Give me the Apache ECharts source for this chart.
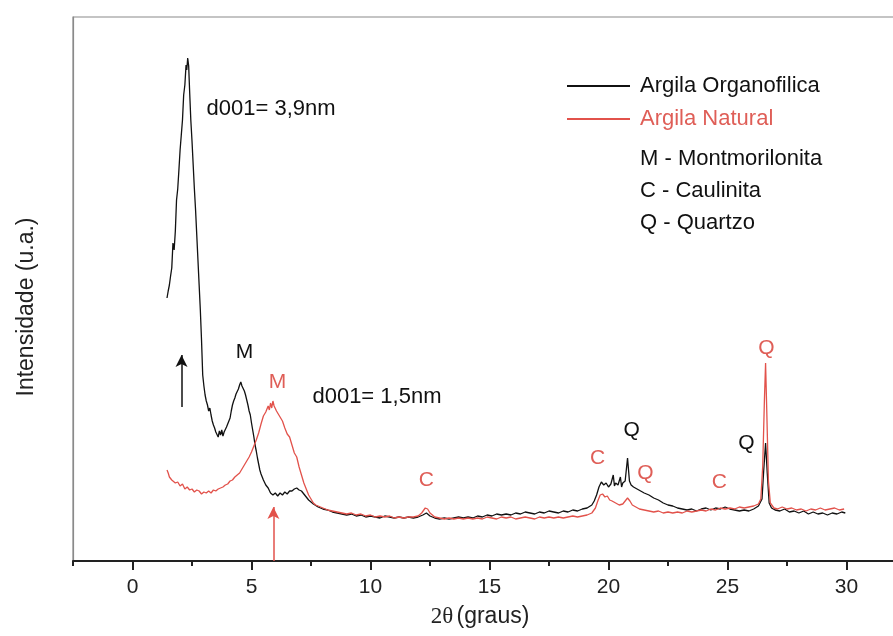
<!DOCTYPE html>
<html>
<head>
<meta charset="utf-8">
<script src="https://cdn.jsdelivr.net/npm/echarts@6/dist/echarts.min.js"></script>
<style>
html,body{margin:0;padding:0;background:#fff;overflow:hidden;width:893px;height:636px;}
#chart{width:906px;height:636px;}
</style>
</head>
<body>
<div id="chart"></div>
<script>
// 2θ (graus), intensity (u.a.)
const organofilica = [
[1.45,263],[1.5,270],[1.55,276],[1.6,285],[1.65,293],[1.7,318],[1.75,311],[1.8,330],[1.85,361],[1.9,372],[1.95,391],[2.0,411],[2.05,426],[2.1,441],[2.15,466],[2.2,476],[2.25,496],[2.28,491],[2.32,503],[2.36,495],[2.4,470],[2.45,441],[2.5,420],[2.55,396],[2.6,372],[2.65,351],[2.7,326],[2.75,301],[2.8,276],[2.85,251],[2.9,221],[2.95,186],[3.0,175],[3.05,166],[3.1,160],[3.15,156],[3.2,150],[3.25,153],[3.3,146],[3.35,140],[3.4,136],[3.45,133],[3.5,129],[3.55,127],[3.6,124],[3.65,130],[3.7,126],[3.75,131],[3.8,125],[3.85,129],[3.9,131],[3.95,134],[4.0,136],[4.05,140],[4.1,143],[4.15,150],[4.2,156],[4.25,160],[4.3,163],[4.35,167],[4.4,169],[4.45,172],[4.5,176],[4.55,179],[4.6,175],[4.65,173],[4.7,170],[4.75,166],[4.8,161],[4.85,156],[4.9,150],[4.95,146],[5.0,138],[5.05,131],[5.1,124],[5.15,116],[5.2,110],[5.25,103],[5.3,97],[5.35,91],[5.4,87],[5.5,81],[5.6,76],[5.7,73],[5.8,68],[5.9,66],[6.0,68],[6.1,65],[6.2,68],[6.3,66],[6.4,69],[6.5,67],[6.6,70],[6.7,70],[6.8,72],[6.9,73],[7.0,71],[7.1,70],[7.2,67],[7.3,64],[7.4,61],[7.5,59],[7.6,57],[7.8,54],[8.0,52],[8.2,51],[8.4,49],[8.6,48],[8.8,47],[9.0,46],[9.2,47],[9.4,45],[9.6,46],[9.8,44],[10.0,45],[10.2,44],[10.4,43],[10.6,45],[10.8,44],[11.0,43],[11.2,44],[11.4,43],[11.6,44],[11.8,43],[12.0,44],[12.2,46],[12.35,48],[12.5,45],[12.7,43],[12.9,42],[13.1,43],[13.3,42],[13.5,43],[13.7,44],[13.9,43],[14.1,44],[14.3,43],[14.5,45],[14.7,44],[14.9,46],[15.1,45],[15.3,47],[15.5,46],[15.7,47],[15.9,46],[16.1,48],[16.3,47],[16.5,49],[16.7,48],[16.9,47],[17.1,49],[17.3,48],[17.5,50],[17.7,49],[17.9,48],[18.1,50],[18.3,49],[18.5,51],[18.7,50],[18.9,52],[19.1,53],[19.3,56],[19.4,60],[19.5,66],[19.6,74],[19.7,79],[19.8,76],[19.9,78],[20.0,74],[20.1,77],[20.2,86],[20.25,75],[20.3,78],[20.4,76],[20.5,84],[20.55,74],[20.6,78],[20.7,80],[20.8,103],[20.88,80],[20.95,76],[21.05,74],[21.2,72],[21.35,70],[21.5,68],[21.7,66],[21.9,63],[22.1,61],[22.3,58],[22.5,56],[22.7,55],[22.9,53],[23.1,52],[23.3,51],[23.5,52],[23.7,50],[23.9,52],[24.1,53],[24.3,51],[24.5,53],[24.7,52],[24.9,54],[25.1,52],[25.3,51],[25.5,50],[25.7,51],[25.9,50],[26.1,52],[26.3,55],[26.45,62],[26.52,90],[26.6,118],[26.67,88],[26.75,58],[26.85,53],[27.0,51],[27.2,50],[27.4,52],[27.6,49],[27.8,50],[28.0,48],[28.2,50],[28.4,47],[28.6,49],[28.8,47],[29.0,48],[29.2,46],[29.4,48],[29.6,47],[29.8,49],[29.95,48]
];
const natural = [
[1.45,91],[1.5,88],[1.55,84],[1.6,85],[1.65,81],[1.7,82],[1.8,78],[1.9,79],[2.0,75],[2.1,77],[2.2,72],[2.3,74],[2.4,71],[2.5,72],[2.6,69],[2.7,71],[2.8,70],[2.9,67],[3.0,69],[3.1,68],[3.2,70],[3.3,68],[3.4,71],[3.5,70],[3.6,72],[3.7,73],[3.8,74],[3.9,76],[4.0,77],[4.1,80],[4.2,81],[4.3,84],[4.4,86],[4.5,88],[4.6,92],[4.7,96],[4.8,100],[4.9,104],[5.0,109],[5.1,115],[5.2,121],[5.3,128],[5.4,137],[5.5,145],[5.6,149],[5.7,155],[5.75,151],[5.8,158],[5.85,153],[5.9,160],[5.95,155],[6.0,156],[6.05,150],[6.1,152],[6.2,144],[6.3,140],[6.4,133],[6.5,127],[6.6,124],[6.7,116],[6.8,108],[6.9,104],[7.0,94],[7.1,86],[7.2,78],[7.3,72],[7.4,66],[7.5,62],[7.6,58],[7.7,56],[7.8,55],[8.0,53],[8.2,51],[8.4,50],[8.6,49],[8.8,48],[9.0,47],[9.2,48],[9.4,46],[9.6,47],[9.8,45],[10.0,46],[10.2,44],[10.4,45],[10.6,44],[10.8,45],[11.0,43],[11.2,44],[11.4,43],[11.6,44],[11.8,44],[12.0,45],[12.15,48],[12.3,53],[12.4,52],[12.5,48],[12.7,44],[12.9,43],[13.1,42],[13.3,43],[13.5,42],[13.7,43],[13.9,42],[14.1,43],[14.3,42],[14.5,43],[14.7,42],[14.9,44],[15.1,43],[15.3,42],[15.5,44],[15.7,43],[15.9,44],[16.1,42],[16.3,43],[16.5,44],[16.7,43],[16.9,42],[17.1,44],[17.3,43],[17.5,44],[17.7,43],[17.9,44],[18.1,43],[18.3,44],[18.5,45],[18.7,44],[18.9,45],[19.1,46],[19.3,48],[19.45,53],[19.55,60],[19.65,66],[19.75,67],[19.85,64],[19.95,65],[20.05,61],[20.15,60],[20.3,58],[20.45,56],[20.6,57],[20.7,60],[20.8,63],[20.9,60],[21.0,56],[21.15,54],[21.3,52],[21.5,51],[21.7,50],[21.9,49],[22.1,50],[22.3,48],[22.5,49],[22.7,48],[22.9,49],[23.1,48],[23.3,50],[23.5,49],[23.7,50],[23.9,51],[24.1,50],[24.3,52],[24.5,51],[24.7,53],[24.9,52],[25.1,53],[25.3,52],[25.5,54],[25.7,53],[25.9,54],[26.1,55],[26.3,57],[26.4,62],[26.48,95],[26.55,160],[26.6,198],[26.65,150],[26.72,80],[26.8,58],[26.95,53],[27.1,52],[27.3,54],[27.5,52],[27.7,53],[27.9,51],[28.1,52],[28.3,50],[28.5,52],[28.7,51],[28.9,53],[29.1,51],[29.3,52],[29.5,53],[29.7,51],[29.9,52]
];
const majorTicks = [0,5,10,15,20,25,30];
const minorTicks = [-2.5,2.5,7.5,12.5,17.5,22.5,27.5,32.5];
const seriesNames = ['Argila Organofilica','Argila Natural'];
const phaseKey = ['M - Montmorilonita','C - Caulinita','Q - Quartzo'];
// peak annotations: [text, 2θ, intensity, which sample (0 organo / 1 natural)]
const peakLabels = [
 ['d001= 3,9nm', 3.11, 452, 0],
 ['d001= 1,5nm', 7.56, 164, 0],
 ['M', 4.71, 209, 0],
 ['M', 6.09, 179, 1],
 ['C', 12.35, 81, 1],
 ['C', 19.54, 103, 1],
 ['Q', 20.97, 131, 0],
 ['Q', 21.55, 88, 1],
 ['C', 24.66, 79, 1],
 ['Q', 25.80, 118, 0],
 ['Q', 26.64, 213, 1]
];
// arrows: [2θ, from, to, sample]
const arrows = [[2.06, 154, 206, 0],[5.92, 0, 54, 1]];

const BLACK = '#111111';
const RED = '#e2524b';
const RED_TXT = '#df5e57';
const FONT = '"Liberation Sans", Arial, sans-serif';
const txtColors = [BLACK, RED_TXT];

const chart = echarts.init(document.getElementById('chart'), null, {renderer:'canvas'});

function arrowLines(k){
  return arrows.filter(a=>a[3]===k).map(a=>[{coord:[a[0],a[1]]},{coord:[a[0],a[2]]}]);
}

const option = {
  animation:false,
  backgroundColor:'#fff',
  grid:{left:73, top:17, right:0, bottom:75, show:true, borderColor:'#8a8a8a', borderWidth:1.2, backgroundColor:'transparent'},
  legend:{
    orient:'vertical', left:567, top:75, padding:0, itemWidth:63, itemHeight:2, itemGap:11, icon:'rect',
    textStyle:{fontSize:22, fontFamily:FONT, padding:[0,0,0,5]},
    data:[{name:seriesNames[0], textStyle:{color:BLACK}},{name:seriesNames[1], textStyle:{color:RED_TXT}}]
  },
  xAxis:[{
    type:'value', min:-2.5, max:32.5, interval:2.5,
    axisLine:{show:true, onZero:false, lineStyle:{color:'#222', width:2}},
    axisTick:{show:true, customValues:majorTicks, length:9, lineStyle:{color:'#222', width:2}},
    axisLabel:{show:true, customValues:majorTicks, fontSize:21, fontFamily:FONT, color:'#222', margin:16},
    splitLine:{show:false}
  },{
    type:'value', gridIndex:0, position:'bottom', min:-2.5, max:32.5, interval:2.5,
    axisLine:{show:false, onZero:false},
    axisTick:{show:true, customValues:minorTicks, length:5, lineStyle:{color:'#222', width:2}},
    axisLabel:{show:false}, splitLine:{show:false}
  }],
  yAxis:{
    type:'value', min:0, max:544,
    axisLine:{show:true, onZero:false, lineStyle:{color:'#8a8a8a', width:1.2}},
    axisTick:{show:false}, axisLabel:{show:false}, splitLine:{show:false}
  },
  series:[
    {name:seriesNames[0], type:'line', data:organofilica, showSymbol:false, symbol:'none',
     lineStyle:{color:BLACK, width:1.3}, itemStyle:{color:BLACK}, z:2,
     markLine:{silent:true, symbol:['none','arrow'], symbolSize:[9,12], label:{show:false},
       lineStyle:{color:BLACK, width:1.5, type:'solid'}, data:arrowLines(0)}},
    {name:seriesNames[1], type:'line', data:natural, showSymbol:false, symbol:'none',
     lineStyle:{color:RED, width:1.3}, itemStyle:{color:RED}, z:3,
     markLine:{silent:true, symbol:['none','arrow'], symbolSize:[9,12], label:{show:false},
       lineStyle:{color:RED, width:1.5, type:'solid'}, data:arrowLines(1)}},
    {name:'labels', type:'scatter', symbolSize:0, silent:true, z:5, itemStyle:{opacity:1},
     data:peakLabels.map(p=>({name:p[0], value:[p[1],p[2]],
       label:{show:true, formatter:p[0], position:'inside',
         align: p[0].length>1 ? 'left':'center', verticalAlign:'middle',
         color:txtColors[p[3]], opacity:1, fontSize: p[0].length>1 ? 22 : 21, fontFamily:FONT}}))}
  ],
  graphic:[
    ...phaseKey.map((t,i)=>({type:'text', left:640, top:148+i*32,
      style:{text:t, font:'22px '+FONT, fill:'#111'}})),
    {type:'text', x:27, y:307, rotation:Math.PI/2,
      style:{text:'Intensidade (u.a.)', font:'23px '+FONT, fill:'#222', align:'center', verticalAlign:'middle'}},
    {type:'text', x:480, y:617,
      style:{text:'{a|2θ} {b|(graus)}', align:'center', verticalAlign:'middle',
        rich:{a:{fontFamily:'"Liberation Serif", "DejaVu Serif", serif', fontSize:23, fill:'#222', color:'#222'},
              b:{fontFamily:FONT, fontSize:23, fill:'#222', color:'#222'}}}}
  ]
};
chart.setOption(option);
</script>
</body>
</html>
